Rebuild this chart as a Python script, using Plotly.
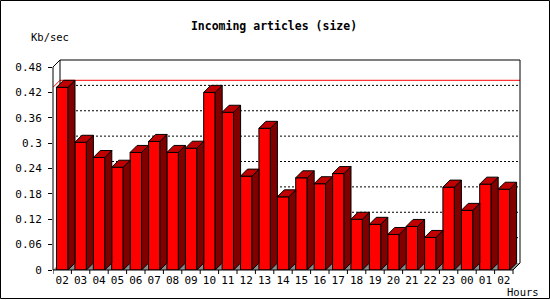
import plotly.graph_objects as go

# ---------------- data ----------------
hours = ["02", "03", "04", "05", "06", "07", "08", "09", "10", "11", "12", "13",
         "14", "15", "16", "17", "18", "19", "20", "21", "22", "23", "00", "01", "02"]
kb_per_sec = [0.432, 0.302, 0.266, 0.243, 0.278, 0.304, 0.278, 0.288, 0.420, 0.373,
              0.222, 0.335, 0.173, 0.218, 0.204, 0.228, 0.120, 0.108, 0.084, 0.103,
              0.077, 0.196, 0.141, 0.203, 0.191]
y_tickvals = [0, 0.06, 0.12, 0.18, 0.24, 0.30, 0.36, 0.42, 0.48]
y_ticktext = ["0", "0.06", "0.12", "0.18", "0.24", "0.3", "0.36", "0.42", "0.48"]
title_text = "Incoming articles (size)"
y_title = "Kb/sec"
x_title = "Hours"

# ---------------- geometry ----------------
W, H = 550, 300
L, Rpx, T, Bpx = 53, 522, 58, 270
pw, ph = Rpx - L, Bpx - T
n = len(hours)
slot_px = 460 / n                      # pixels per category slot
ypx = 203 / y_tickvals[-1]             # pixels per unit on y
xmax = pw / slot_px
ymax = ph / ypx
dx = 7 / slot_px                       # 3-D depth in x units
dy = 7 / ypx                           # 3-D depth in y units
bar_off = 3.5 / slot_px
bar_w = 11.5 / slot_px
top_v = y_tickvals[-1]


def pxx(px):
    return (px - L) / pw


def pxy(py):
    return (Bpx - py) / ph


FRONT = "#ff0000"
SIDE = "#800000"
TOP = "#c00000"
FLOOR = "#8c8c8c"
FONT = "DejaVu Sans Mono"

shapes = []
# floor
shapes.append(dict(type="path", xref="x", yref="y", layer="below",
                   path=f"M 0,0 L {n},0 L {n + dx},{dy} L {dx},{dy} Z",
                   fillcolor=FLOOR, line=dict(width=0)))
# dotted grid lines on back wall
for v in y_tickvals[1:-1]:
    shapes.append(dict(type="line", xref="x", yref="y", layer="below",
                       x0=dx, x1=n + dx, y0=v + dy, y1=v + dy,
                       line=dict(color="black", width=1, dash="2px,2px")))
# max line (red)
vmax = max(kb_per_sec)
shapes.append(dict(type="path", xref="x", yref="y", layer="below",
                   path=f"M 0,{vmax} L {dx},{vmax + dy} L {n + dx},{vmax + dy}",
                   line=dict(color="red", width=1)))
# back wall frame
shapes.append(dict(type="path", xref="x", yref="y", layer="below",
                   path=(f"M 0,{top_v} L {dx},{top_v + dy} L {n + dx},{top_v + dy} "
                         f"L {n + dx},{dy} L {n},0"),
                   line=dict(color="black", width=1)))
shapes.append(dict(type="line", xref="x", yref="y", layer="below",
                   x0=dx, x1=dx, y0=dy, y1=top_v + dy,
                   line=dict(color="black", width=1)))

# 3-D sides and tops of bars
for i, v in enumerate(kb_per_sec):
    x0 = i + bar_off
    x1 = x0 + bar_w
    shapes.append(dict(type="path", xref="x", yref="y", layer="above",
                       path=f"M {x1},0 L {x1 + dx},{dy} L {x1 + dx},{v + dy} L {x1},{v} Z",
                       fillcolor=SIDE, line=dict(color="black", width=1)))
    shapes.append(dict(type="path", xref="x", yref="y", layer="above",
                       path=f"M {x0},{v} L {x1},{v} L {x1 + dx},{v + dy} L {x0 + dx},{v + dy} Z",
                       fillcolor=TOP, line=dict(color="black", width=1)))

# front axes
shapes.append(dict(type="line", xref="paper", yref="y", x0=0, x1=0, y0=0, y1=top_v,
                   line=dict(color="black", width=1)))
shapes.append(dict(type="line", xref="x", yref="paper", x0=0, x1=n, y0=0, y1=0,
                   line=dict(color="black", width=1)))
# x boundary ticks
for i in range(n + 1):
    shapes.append(dict(type="line", xref="x", yref="paper", x0=i, x1=i,
                       y0=0, y1=-4 / ph, line=dict(color="black", width=1)))
# outer frame
shapes.append(dict(type="rect", xref="paper", yref="paper",
                   x0=pxx(0.5), x1=pxx(549.5), y0=pxy(0.5), y1=pxy(298.5),
                   line=dict(color="black", width=1), fillcolor="rgba(0,0,0,0)"))

fig = go.Figure()
fig.add_trace(go.Bar(
    x=list(range(n)), y=kb_per_sec, offset=bar_off, width=bar_w,
    marker=dict(color=FRONT, line=dict(color="black", width=1)),
    hoverinfo="skip", showlegend=False,
))

fig.update_layout(
    width=W, height=H,
    margin=dict(l=L, r=W - Rpx, t=T, b=H - Bpx, pad=0),
    paper_bgcolor="white", plot_bgcolor="white",
    showlegend=False,
    shapes=shapes,
    title=dict(text=f"<b>{title_text}</b>", x=274 / W, y=1 - 26 / H,
               xanchor="center", yanchor="middle", xref="container", yref="container",
               font=dict(family=FONT, size=11.5, color="black")),
    xaxis=dict(range=[0, xmax], showgrid=False, zeroline=False, showline=False,
               tickmode="array", tickvals=[i + 0.5 for i in range(n)], ticktext=hours,
               ticks="", ticklabelstandoff=2,
               tickfont=dict(family=FONT, size=11, color="black"),
               fixedrange=True),
    yaxis=dict(range=[0, ymax], showgrid=False, zeroline=False, showline=False,
               tickmode="array", tickvals=y_tickvals, ticktext=y_ticktext,
               ticks="outside", ticklen=4, tickcolor="black", tickwidth=1,
               ticklabelstandoff=4,
               tickfont=dict(family=FONT, size=11, color="black"), fixedrange=True),
    annotations=[
        dict(text=y_title, xref="paper", yref="paper", x=pxx(29), y=pxy(37),
             xanchor="left", yanchor="middle", showarrow=False,
             font=dict(family=FONT, size=10.5, color="black")),
        dict(text=x_title, xref="paper", yref="paper", x=pxx(505), y=pxy(292),
             xanchor="left", yanchor="middle", showarrow=False,
             font=dict(family=FONT, size=10.5, color="black")),
    ],
)

fig.write_html("out.html")
